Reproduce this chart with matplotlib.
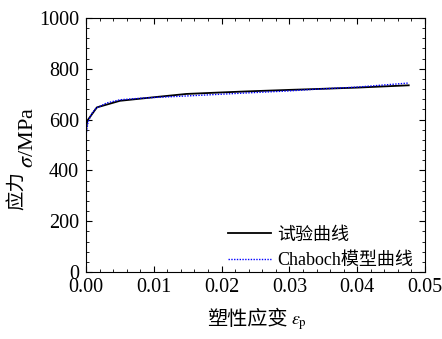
import numpy as np
import matplotlib
matplotlib.use("Agg")
import matplotlib.pyplot as plt
from matplotlib.ticker import MultipleLocator

plt.rcParams['font.family'] = ['Liberation Serif', 'Noto Sans CJK SC']
plt.rcParams['mathtext.fontset'] = 'stix'

W, H = 442, 339

# 试验曲线
exp_strain = [0.0, 0.0002, 0.0016, 0.005, 0.010, 0.0148, 0.020, 0.0237, 0.030, 0.0335, 0.040, 0.0476]
exp_stress = [560, 596, 648, 674, 688, 701, 707, 711, 717, 720, 726, 735]

# Chaboche 模型曲线
cha_strain = [0.0, 0.0003, 0.0008, 0.0015, 0.003, 0.005, 0.008, 0.010, 0.0148, 0.020, 0.0237, 0.030, 0.0335, 0.040, 0.0476]
cha_stress = [539, 590, 622, 645, 665, 678, 684, 687, 693, 700, 705, 713, 719, 728, 744]

fig = plt.figure(figsize=(W / 100, H / 100), dpi=100)
ax = fig.add_axes([86 / W, 1 - 272 / H, (425 - 86) / W, (272 - 18) / H])

ax.plot(exp_strain, exp_stress, color='black', lw=1.3, label='试验曲线')
ax.plot(cha_strain, cha_stress, color='blue', lw=1.0, ls=(0, (1, 1)), label='Chaboch模型曲线')

ax.set_xlim(0, 0.05)
ax.set_ylim(0, 1000)
ax.xaxis.set_major_locator(MultipleLocator(0.01))
ax.xaxis.set_minor_locator(MultipleLocator(0.002))
ax.yaxis.set_major_locator(MultipleLocator(200))
ax.yaxis.set_minor_locator(MultipleLocator(40))
ax.xaxis.set_major_formatter(plt.FormatStrFormatter('%.2f'))
ax.tick_params(which='both', direction='in', top=True, right=True, labelsize=14.5)
ax.tick_params(axis='x', pad=4.5)
ax.tick_params(axis='y', pad=5)
ax.tick_params(which='major', length=4, width=0.8)
ax.tick_params(which='minor', length=2.5, width=0.6)

# 坐标轴标题（中文与符号分开写，符号用 mathtext）
fig.text(288 / W, 1 - 325 / H, '塑性应变', fontsize=14.5, ha='right', va='baseline',
         family='Noto Sans CJK SC')
fig.text(291 / W, 1 - 325 / H, r'$\varepsilon_{\mathrm{p}}$', fontsize=13, ha='left', va='baseline')

fig.text(23 / W, 1 - 210 / H, '应力', fontsize=14, rotation=90, rotation_mode='anchor',
         ha='left', va='baseline', family='Noto Sans CJK SC')
fig.text(33 / W, 1 - 168 / H, r'$\sigma$/MPa', fontsize=16, rotation=90, rotation_mode='anchor',
         ha='left', va='baseline')

ax.legend(loc='lower right', bbox_to_anchor=(0.985, -0.016), frameon=False, fontsize=13,
          handlelength=2.4, handletextpad=0.3, labelspacing=0.45, borderaxespad=0.0)

fig.savefig('out.png', dpi=100)
